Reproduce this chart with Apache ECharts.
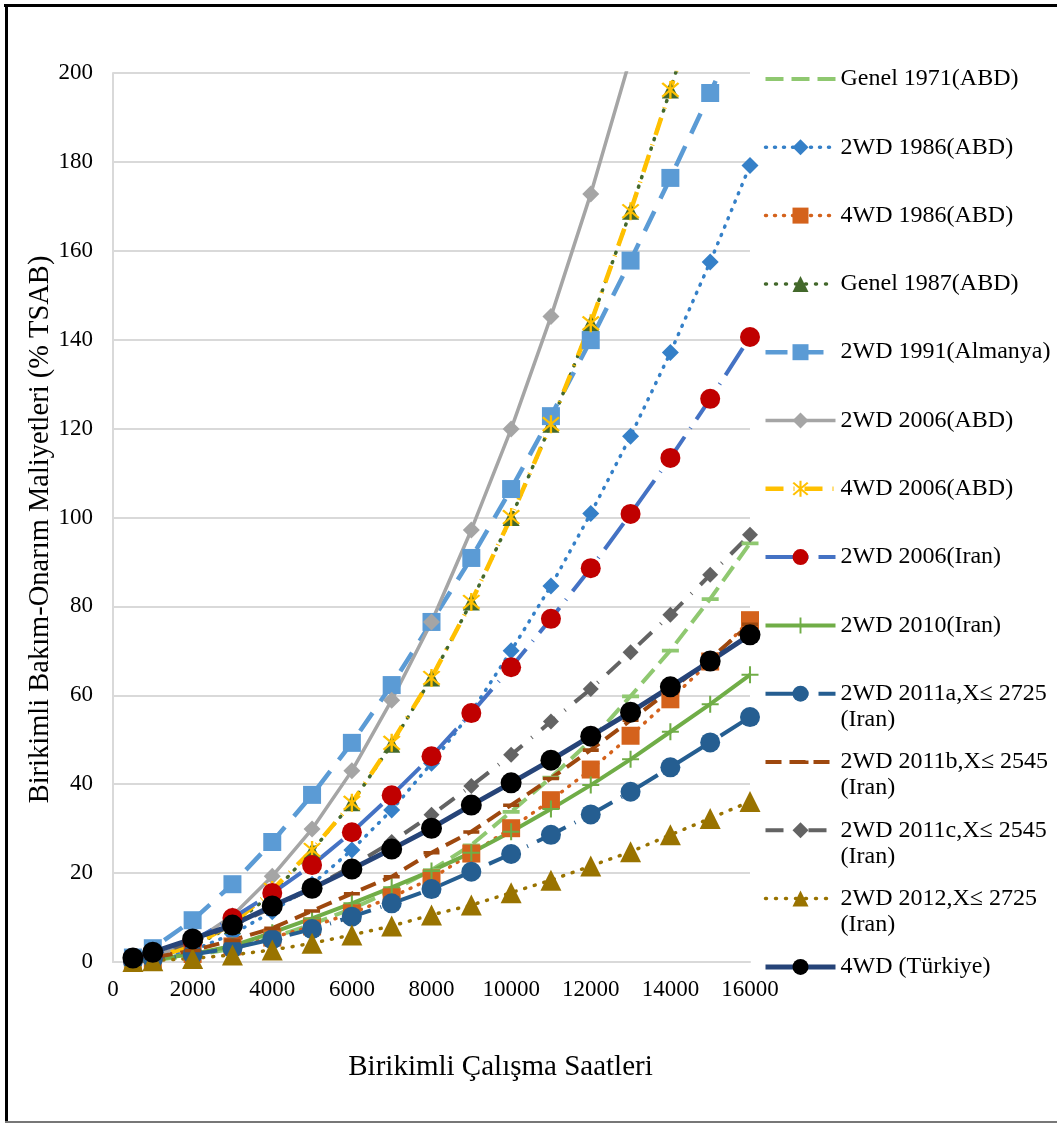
<!DOCTYPE html>
<html>
<head>
<meta charset="utf-8">
<style>
  html, body { margin: 0; padding: 0; background: #fff; }
  #chart { width: 1057px; height: 1124px; }
</style>
<script src="https://cdn.jsdelivr.net/npm/echarts@6/dist/echarts.min.js"></script>
</head>
<body>
<div id="chart"></div>
<script>
// Cumulative operating hours (x) and cumulative repair & maintenance cost (% of list price)
const hours = [500, 1000, 2000, 3000, 4000, 5000, 6000, 7000, 8000, 9000, 10000, 11000, 12000, 13000, 14000, 15000, 16000];

const genel1971   = [0.1, 0.4, 1.4, 3.0, 5.5, 8.5, 12.0, 16.0, 20.7, 26.3, 33.8, 41.5, 49.8, 59.8, 70.1, 81.7, 94.2];
const wd2_1986    = [0.3, 0.9, 2.6, 6.3, 11.3, 17.5, 25.2, 34.2, 44.7, 56.2, 70.0, 84.6, 100.9, 118.3, 137.1, 157.5, 179.2];
const wd4_1986    = [0.2, 0.6, 1.8, 3.5, 5.5, 8.0, 11.0, 14.6, 18.8, 24.4, 30.1, 36.4, 43.3, 50.9, 59.1, 67.6, 76.9];
const genel1987   = [0.3, 0.9, 3.4, 8.2, 15.4, 25.0, 35.8, 49.0, 63.9, 81.0, 100.0, 121.0, 143.7, 168.9, 196.2, 225.0, 256.0];
const wd2_1991    = [1.0, 3.1, 9.4, 17.5, 27.0, 37.6, 49.3, 62.3, 76.5, 90.9, 106.4, 122.8, 139.9, 157.8, 176.4, 195.5, 215.5];
const wd2_2006abd = [0.4, 1.2, 4.4, 10.4, 19.3, 29.9, 43.0, 58.9, 76.5, 97.2, 119.9, 145.2, 172.8, 203.5, 237.0, 273.0, 312.0];
const wd4_2006abd = [0.3, 1.0, 3.6, 8.6, 16.2, 25.2, 35.8, 49.3, 63.9, 81.0, 100.1, 121.0, 143.7, 168.9, 196.2, 225.5, 257.0];
const wd2_2006ir  = [0.5, 1.6, 4.8, 9.9, 15.5, 21.8, 29.2, 37.5, 46.3, 56.0, 66.3, 77.2, 88.6, 100.8, 113.4, 126.7, 140.6];
const wd2_2010ir  = [0.1, 0.5, 1.8, 3.6, 6.6, 9.8, 13.2, 16.8, 20.5, 24.6, 29.3, 34.4, 39.8, 45.6, 51.8, 58.0, 64.6];
const wd2_2011a   = [0.2, 0.6, 1.7, 3.1, 5.1, 7.4, 10.2, 13.2, 16.4, 20.3, 24.3, 28.6, 33.2, 38.3, 43.8, 49.4, 55.1];
const wd2_2011b   = [0.4, 1.0, 2.6, 4.9, 7.6, 11.5, 15.4, 19.2, 24.6, 29.3, 35.3, 41.3, 47.7, 54.4, 61.2, 68.2, 76.0];
const wd2_2011c   = [0.5, 1.5, 4.6, 8.2, 12.2, 16.6, 21.6, 27.0, 33.1, 39.6, 46.6, 54.1, 61.4, 69.7, 78.1, 87.1, 96.1];
const wd2_2012    = [0.1, 0.3, 0.8, 1.6, 2.7, 4.2, 6.1, 8.1, 10.6, 12.8, 15.6, 18.4, 21.6, 24.8, 28.6, 32.3, 36.1];
const wd4_turkiye = [0.9, 2.2, 5.2, 8.3, 12.6, 16.6, 20.9, 25.4, 30.1, 35.3, 40.3, 45.4, 50.8, 56.2, 61.9, 67.7, 73.6];

const seriesNames = [
  'Genel 1971(ABD)', '2WD 1986(ABD)', '4WD 1986(ABD)', 'Genel 1987(ABD)',
  '2WD 1991(Almanya)', '2WD 2006(ABD)', '4WD 2006(ABD)', '2WD 2006(Iran)',
  '2WD 2010(Iran)', '2WD 2011a,X≤ 2725 (Iran)', '2WD 2011b,X≤ 2545 (Iran)',
  '2WD 2011c,X≤ 2545 (Iran)', '2WD 2012,X≤ 2725 (Iran)', '4WD (Türkiye)'
];
const legendLines = {
  '2WD 2011a,X≤ 2725 (Iran)': ['2WD 2011a,X≤ 2725', '(Iran)'],
  '2WD 2011b,X≤ 2545 (Iran)': ['2WD 2011b,X≤ 2545', '(Iran)'],
  '2WD 2011c,X≤ 2545 (Iran)': ['2WD 2011c,X≤ 2545', '(Iran)'],
  '2WD 2012,X≤ 2725 (Iran)':  ['2WD 2012,X≤ 2725', '(Iran)']
};

const serif = "'Liberation Serif', 'Times New Roman', serif";

// marker shapes; the tiny corner specks keep the square frame so the dash stays flat
const dashMark = 'path://M0,0L0.01,0L0,0.01Z M10,10L9.99,10L10,9.99Z M0,4H10V6.2H0Z';
const plusMark = 'path://M4.4,0H5.6V4.4H10V5.6H5.6V10H4.4V5.6H0V4.4H4.4Z';
const starMark = 'path://M4.45,0H5.55V10H4.45Z M0.8,1.6L1.6,0.8L9.2,8.4L8.4,9.2Z M8.4,0.8L9.2,1.6L1.6,9.2L0.8,8.4Z';

function pairs(ys) { return hours.map((h, i) => [h, ys[i]]); }

function line(name, data, color, width, dash, symbol, size, markColor, cap) {
  return {
    name: name,
    type: 'line',
    data: pairs(data),
    showAllSymbol: true,
    symbol: symbol,
    symbolSize: size,
    clip: true,
    lineStyle: { color: color, width: width, type: dash, cap: cap || 'butt' },
    itemStyle: { color: markColor || color, borderWidth: 0 },
    emphasis: { disabled: true }
  };
}

const series = [
  line(seriesNames[0], genel1971, '#8fc870', 4, [18, 8], dashMark, 17),
  line(seriesNames[1], wd2_1986, '#3580c8', 3.5, [1, 8], 'diamond', 17, '#3580c8', 'round'),
  line(seriesNames[2], wd4_1986, '#d4621c', 3.5, [1, 8], 'rect', 18, '#d4621c', 'round'),
  line(seriesNames[3], genel1987, '#43682b', 3.5, [1, 9], 'triangle', 17, '#43682b', 'round'),
  line(seriesNames[4], wd2_1991, '#5b9bd5', 4.5, [22, 14], 'rect', 18),
  line(seriesNames[5], wd2_2006abd, '#a5a5a5', 3.5, 'solid', 'diamond', 17),
  line(seriesNames[6], wd4_2006abd, '#ffc000', 4.5, [18, 10, 1, 10], starMark, 18),
  line(seriesNames[7], wd2_2006ir, '#4472c4', 4, [32, 10, 1, 10], 'circle', 20, '#c00000'),
  line(seriesNames[8], wd2_2010ir, '#70ad47', 4, 'solid', plusMark, 17),
  line(seriesNames[9], wd2_2011a, '#255e91', 4, [32, 10, 1, 10], 'circle', 20),
  line(seriesNames[10], wd2_2011b, '#9e480e', 4, [16, 8], dashMark, 16),
  line(seriesNames[11], wd2_2011c, '#636363', 4, [18, 12, 1, 12], 'diamond', 16),
  line(seriesNames[12], wd2_2012, '#997300', 3.5, [1, 9], 'triangle', 21, '#997300', 'round'),
  line(seriesNames[13], wd4_turkiye, '#264478', 5, 'solid', 'circle', 21, '#000000')
];

const chart = echarts.init(document.getElementById('chart'), null, { renderer: 'canvas' });

chart.setOption({
  animation: false,
  backgroundColor: '#ffffff',
  textStyle: { fontFamily: serif },
  grid: { left: 113, right: 307, top: 73, bottom: 162, containLabel: false },
  xAxis: {
    type: 'value',
    min: 0, max: 16000, interval: 2000,
    name: 'Birikimli Çalışma Saatleri',
    nameLocation: 'middle',
    nameGap: 91,
    nameMoveOverlap: false,
    nameTextStyle: { fontFamily: serif, fontSize: 29, color: '#000', padding: [0, 0, 0, 138] },
    axisLine: { show: true, lineStyle: { color: '#d9d9d9', width: 2 } },
    axisTick: { show: false },
    axisLabel: { fontFamily: serif, fontSize: 23, color: '#000', margin: 16, formatter: v => String(v) },
    splitLine: { show: false }
  },
  yAxis: {
    type: 'value',
    min: 0, max: 200, interval: 20,
    name: 'Birikimli Bakım-Onarım Maliyetleri (% TSAB)',
    nameLocation: 'middle',
    nameRotate: 90,
    nameGap: 58,
    nameMoveOverlap: false,
    nameTextStyle: { fontFamily: serif, fontSize: 28.5, color: '#000', padding: [0, 24, 0, 0] },
    axisLine: { show: true, lineStyle: { color: '#d9d9d9', width: 2 } },
    axisTick: { show: false },
    axisLabel: { fontFamily: serif, fontSize: 23, color: '#000', margin: 20, formatter: v => String(v) },
    splitLine: { show: true, lineStyle: { color: '#d9d9d9', width: 2 } }
  },
  legend: {
    orient: 'vertical',
    left: 763,
    top: 40,
    padding: 0,
    itemWidth: 70,
    itemHeight: 20,
    itemGap: -9.7,
    selectedMode: false,
    data: seriesNames,
    lineStyle: { width: 'inherit' },
    textStyle: { fontFamily: serif, fontSize: 24, color: '#000', lineHeight: 26 },
    formatter: function (name) {
      const lines = legendLines[name];
      // a blank first line keeps the icon level with the first text line
      return lines ? '\n' + lines[0] + '\n' + lines[1] : '\n' + name + '\n';
    }
  },
  graphic: [
    { type: 'line', shape: { x1: 4, y1: 5.5, x2: 1057, y2: 5.5 }, style: { stroke: '#000', lineWidth: 3 }, silent: true },
    { type: 'line', shape: { x1: 6.5, y1: 4, x2: 6.5, y2: 1122 }, style: { stroke: '#000', lineWidth: 3 }, silent: true },
    { type: 'line', shape: { x1: 5, y1: 1122, x2: 1057, y2: 1122 }, style: { stroke: '#777', lineWidth: 2 }, silent: true }
  ],
  series: series
});
</script>
</body>
</html>
